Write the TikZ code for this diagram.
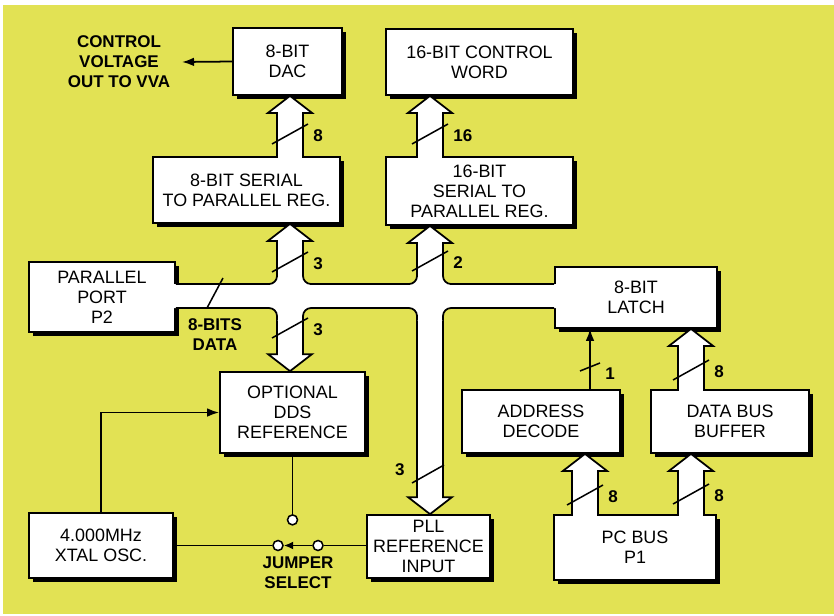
\documentclass[tikz,border=0pt]{standalone}
\usepackage{fontspec}
\setmainfont{Liberation Sans}
\usetikzlibrary{calc,shadows,arrows.meta}

\definecolor{pageyellow}{RGB}{226,226,84}
\newcommand{\blockfont}{\fontsize{15.3}{17}\selectfont}
\newcommand{\tagfont}{\fontsize{14.5}{17}\selectfont\bfseries}

\tikzset{
  block/.style={draw, line width=1.5pt, fill=white, align=center, inner sep=0pt, font=\blockfont,
    drop shadow={shadow xshift=1.3mm, shadow yshift=-1.3mm, fill=black, opacity=1}},
  tag/.style={font=\tagfont, align=center, inner sep=1pt},
  wire/.style={line width=1.5pt},
  wirearrow/.style={wire, -{Latex[length=3.6mm, width=2.6mm]}},
  fatline/.style={line width=1.5pt, fill=white},
  busedge/.style={line width=1.5pt, rounded corners=2.4mm},
  pin/.style={circle, draw, line width=1.3pt, fill=white, minimum size=3mm, inner sep=0pt},
  tick/.style={line width=1.3pt}
}

% hollow wide arrow from #1 to its tip #2
\newcommand{\fatarrow}[2]{%
  \path #1 coordinate (fa0) #2 coordinate (fat);
  \path ($(fa0)!-1.5pt!(fat)$) coordinate (fas) ($(fat)!5.1mm!(fa0)$) coordinate (fab);
  \filldraw[fatline] ($(fas)!3.9mm!90:(fat)$) -- ($(fab)!3.9mm!90:(fat)$) -- ($(fab)!6.6mm!90:(fat)$)
    -- (fat) -- ($(fab)!6.6mm!-90:(fat)$) -- ($(fab)!3.9mm!-90:(fat)$) -- ($(fas)!3.9mm!-90:(fat)$);
}
% bit count mark across a bus
\newcommand{\bitmark}[2]{%
  \draw[tick] ($#1+(-18,10)$) -- ($#1+(18,-10)$);
  \node[tag, anchor=west] at ($#1+(22,2)$) {#2};
}

\begin{document}
\begin{tikzpicture}[x=0.3mm, y=-0.3mm]
  \useasboundingbox (0,0) rectangle (834,615);
  \fill[white] (0,0) rectangle (834,615);
  \fill[pageyellow] (3,5) rectangle (834,614);

  % blocks
  \node[block, minimum width=32.7mm, minimum height=20.1mm] (dac) at (287.5,61.5) {8-BIT\\DAC};
  \node[block, minimum width=56.1mm, minimum height=19.8mm] (word) at (479.5,62) {16-BIT CONTROL\\WORD};
  \node[block, minimum width=56.1mm, minimum height=19.8mm] (ser8) at (246.5,190) {8-BIT SERIAL\\TO PARALLEL REG.};
  \node[block, minimum width=56.1mm, minimum height=20.4mm] (ser16) at (479.5,191) {16-BIT\\SERIAL TO\\PARALLEL REG.};
  \node[block, minimum width=43.8mm, minimum height=21mm] (port) at (102,297) {PARALLEL\\PORT\\P2};
  \node[block, minimum width=48.6mm, minimum height=18.3mm] (latch) at (636,297.5) {8-BIT\\LATCH};
  \node[block, minimum width=43.5mm, minimum height=24.3mm] (dds) at (292.5,412.5) {OPTIONAL\\DDS\\REFERENCE};
  \node[block, minimum width=47.4mm, minimum height=18.9mm] (addr) at (541,421.5) {ADDRESS\\DECODE};
  \node[block, minimum width=47.4mm, minimum height=18.9mm] (buf) at (730,421.5) {DATA BUS\\BUFFER};
  \node[block, minimum width=43.2mm, minimum height=19.5mm] (xtal) at (101,545.5) {4.000MHz\\XTAL OSC.};
  \node[block, minimum width=36.9mm, minimum height=18.9mm] (pll) at (428.5,546.5) {PLL\\REFERENCE\\INPUT};
  \node[block, minimum width=48.6mm, minimum height=19.5mm] (pcbus) at (635,547.5) {PC BUS\\P1};

  \node[tag, inner xsep=3.5mm] (vva) at (119,62) {CONTROL\\VOLTAGE\\OUT TO VVA};
  \node[tag] (bitsdata) at (215,335) {8-BITS\\DATA};
  \node[tag] (jumper) at (298,573) {JUMPER\\SELECT};

  \coordinate (jl) at (290,296);
  \coordinate (jr) at (430,296);
  \coordinate (pa) at (585,0);
  \coordinate (pb) at (691,0);

  % the shared bus
  \fill[white, rounded corners=2.4mm] (160,284) -- (277,284) -- (277,262) -- (303,262) -- (303,284)
    -- (417,284) -- (417,262) -- (443,262) -- (443,284) -- (570,284) -- (570,308)
    -- (443,308) -- (443,335) -- (417,335) -- (417,308) -- (303,308) -- (303,335)
    -- (277,335) -- (277,308) -- (160,308) -- cycle;
  \draw[busedge] (port.east |- 0,284) -- (277,284) -- (277,262);
  \draw[busedge] (303,262) -- (303,284) -- (417,284) -- (417,262);
  \draw[busedge] (443,262) -- (443,284) -- (latch.west |- 0,284);
  \draw[busedge] (latch.west |- 0,308) -- (443,308) -- (443,335);
  \draw[busedge] (417,335) -- (417,308) -- (303,308) -- (303,335);
  \draw[busedge] (277,335) -- (277,308) -- (port.east |- 0,308);

  \fatarrow{($(jl)+(0,-24)$)}{(jl |- ser8.south)}
  \fatarrow{($(jr)+(0,-24)$)}{(jr |- ser16.south)}
  \fatarrow{($(jl)+(0,26)$)}{(jl |- dds.north)}
  \fatarrow{($(jr)+(0,26)$)}{(jr |- pll.north)}
  \fatarrow{(jl |- ser8.north)}{(jl |- dac.south)}
  \fatarrow{(jr |- ser16.north)}{(jr |- word.south)}
  \fatarrow{(pb |- buf.north)}{(pb |- latch.south)}
  \fatarrow{(pa |- pcbus.north)}{(pa |- addr.south)}
  \fatarrow{(pb |- pcbus.north)}{(pb |- buf.south)}

  % thin connections
  \draw[wirearrow] (dac.west) -- (vva.east);
  \draw[wirearrow] (xtal.north) |- (dds.west);
  \coordinate (dec) at ($(addr.north)+(49,0)$);
  \draw[wirearrow] (dec) -- (dec |- latch.south);

  \node[pin] (jtop) at ($(dds.south)+(0,66)$) {};
  \node[pin] (jleft) at (xtal.east -| 278,0) {};
  \node[pin] (jright) at (xtal.east -| 318,0) {};
  \draw[wire] (dds.south) -- (jtop);
  \draw[wire] (xtal.east) -- (jleft);
  \draw[wire] (jright) -- (jright -| pll.west);
  \draw[wire, -{Latex[length=2.8mm, width=2.4mm]}] (jright) -- (jleft);

  % bit counts
  \bitmark{(290,134)}{8}
  \bitmark{(430,134)}{16}
  \bitmark{(290,262)}{3}
  \bitmark{(430,261)}{2}
  \bitmark{(290,328)}{3}
  \bitmark{(691,370)}{8}
  \bitmark{(585,495)}{8}
  \bitmark{(691,494)}{8}
  \draw[tick] (412,483) -- (444,465);
  \node[tag, anchor=east] at (406,470) {3};
  \draw[tick] (580,371) -- (600,363);
  \node[tag, anchor=west] at (604,374) {1};
  \draw[tick] (207,308) -- (223,278);
\end{tikzpicture}
\end{document}
